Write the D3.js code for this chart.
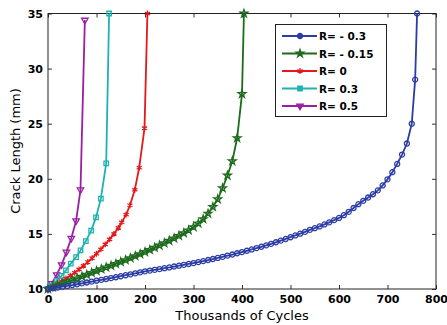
<!DOCTYPE html>
<html>
<head>
<meta charset="utf-8">
<script src="https://cdn.jsdelivr.net/npm/d3@7"></script>
<style>
  body { margin: 0; background: #fff; }
  svg { display: block; }
  .tick text { font-family: "DejaVu Sans", sans-serif; font-weight: bold; font-size: 11px; fill: #000; }
  .tick line { stroke: #333; }
</style>
</head>
<body>
<div id="chart"></div>
<script>
// series: cycles (thousands) and crack length (mm)
var seriesNames = ["R= - 0.3", "R= - 0.15", "R= 0", "R= 0.3", "R= 0.5"];

var cyclesA = [0,10,20,30,40,50,60,70,80,90,100,110,120,130,140,150,160,170,180,190,200,
  210,220,230,240,250,260,270,280,290,300,310,320,330,340,350,360,370,380,390,400,
  410,420,430,440,450,460,470,480,490,500,510,520,530,540,550,560,570,580,590,600,
  610,620,630,640,650,660,670,680,690,700,710,720,730,740,750,757,761];
var lengthA = [10.00,10.07,10.14,10.21,10.28,10.36,10.43,10.51,10.59,10.67,10.75,10.83,10.91,10.99,11.07,11.16,11.25,11.33,11.42,11.51,11.60,
  11.67,11.74,11.81,11.89,11.96,12.04,12.12,12.19,12.27,12.35,12.44,12.53,12.63,12.72,12.82,12.92,13.03,13.13,13.24,13.35,
  13.47,13.59,13.71,13.83,13.96,14.10,14.24,14.39,14.54,14.70,14.86,15.02,15.19,15.37,15.52,15.68,15.86,16.05,16.25,16.45,
  16.70,17.00,17.35,17.70,18.00,18.30,18.60,18.95,19.40,19.95,20.60,21.35,22.20,23.20,25.00,29.00,35.00];

var cyclesB = [0,10,20,30,40,50,60,70,80,90,100,110,120,130,140,150,160,170,180,190,200,
  210,220,230,240,250,260,270,280,290,300,310,320,330,340,350,360,370,380,390,400,404];
var lengthB = [10.00,10.16,10.32,10.48,10.64,10.80,10.96,11.13,11.30,11.47,11.64,11.80,11.96,12.12,12.29,12.46,12.63,12.81,12.99,13.17,13.36,
  13.55,13.75,13.95,14.16,14.38,14.60,14.83,15.07,15.33,15.62,15.95,16.35,16.85,17.45,18.15,19.15,20.30,21.60,23.70,27.70,35.00];

var cyclesC = [0,10,19,28,37,46,55,64,73,82,91,100,109,118,127,136,145,152,161,169,179,188,199,205];
var lengthC = [10.00,10.22,10.45,10.70,10.95,11.20,11.48,11.78,12.10,12.45,12.80,13.20,13.60,14.05,14.50,15.00,15.55,16.05,16.75,17.60,19.00,21.00,24.60,35.00];

var cyclesD = [0,8,18,28,37,47,58,67,78,89,99,109,120,126];
var lengthD = [10.00,10.30,10.75,11.20,11.70,12.30,12.90,13.50,14.35,15.30,16.50,18.20,21.40,35.00];

var cyclesE = [0,8,18,28,38,48,58,67,76];
var lengthE = [10.00,10.50,11.30,12.20,13.35,14.60,16.20,19.00,34.40];

var xTicks = [0,100,200,300,400,500,600,700,800];
var yTicks = [10,15,20,25,30,35];

var colors = ["#2b3ca5", "#1d6b1d", "#e3191c", "#1fb2b2", "#9a1fa3"];

function drawChart() {
    var w = 447, h = 325;
    var left = 48, right = 436, top = 13.5, bottom = 289;

    var svg = d3.select("#chart").append("svg")
        .attr("width", w).attr("height", h);

    var x = d3.scaleLinear().domain([0, 800]).range([left, right]);
    var y = d3.scaleLinear().domain([10, 35]).range([bottom, top]);

    // axes with inward ticks on all four sides
    svg.append("g").attr("transform", "translate(0," + bottom + ")")
        .call(d3.axisBottom(x).tickValues(xTicks).tickSizeInner(-4).tickSizeOuter(0).tickPadding(6))
        .call(function(g){ g.select(".domain").remove(); });
    svg.append("g").attr("transform", "translate(0," + top + ")")
        .call(d3.axisTop(x).tickValues(xTicks).tickSizeInner(-4).tickSizeOuter(0).tickFormat(""))
        .call(function(g){ g.select(".domain").remove(); });
    svg.append("g").attr("transform", "translate(" + left + ",0)")
        .call(d3.axisLeft(y).tickValues(yTicks).tickSizeInner(-4).tickSizeOuter(0).tickPadding(5))
        .call(function(g){ g.select(".domain").remove(); });
    svg.append("g").attr("transform", "translate(" + right + ",0)")
        .call(d3.axisRight(y).tickValues(yTicks).tickSizeInner(-4).tickSizeOuter(0).tickFormat(""))
        .call(function(g){ g.select(".domain").remove(); });

    svg.append("rect")
        .attr("x", left).attr("y", top)
        .attr("width", right - left).attr("height", bottom - top)
        .attr("fill", "none").attr("stroke", "#222").attr("stroke-width", 1);

    var allCycles = [cyclesA, cyclesB, cyclesC, cyclesD, cyclesE];
    var allLengths = [lengthA, lengthB, lengthC, lengthD, lengthE];
    var symbols = [d3.symbolCircle, d3.symbolStar, d3.symbolAsterisk, d3.symbolSquare, d3.symbolTriangle];
    var sizes = [20, 18, 24, 20, 18];

    var line = d3.line()
        .x(function(d){ return x(d[0]); })
        .y(function(d){ return y(d[1]); });

    // draw the series in reverse so blue ends on top at the origin like the original
    for (var s = 4; s >= 0; s--) {
        var pts = allCycles[s].map(function(c, i){ return [c, allLengths[s][i]]; });
        svg.append("path").datum(pts)
            .attr("d", line)
            .attr("fill", "none")
            .attr("stroke", colors[s])
            .attr("stroke-width", 1.8);
        var sym = d3.symbol().type(symbols[s]).size(sizes[s]);
        svg.append("g").selectAll("path")
            .data(pts).enter().append("path")
            .attr("d", sym)
            .attr("transform", function(d){
                return "translate(" + x(d[0]) + "," + y(d[1]) + ")" + (s === 4 ? " rotate(180)" : "");
            })
            .attr("fill", "none")
            .attr("stroke", colors[s])
            .attr("stroke-width", 1.3);
    }

    // legend
    var lg = svg.append("g");
    lg.append("rect").attr("x", 275.5).attr("y", 24.5).attr("width", 111).attr("height", 92)
        .attr("fill", "#fff").attr("stroke", "#222").attr("stroke-width", 1);
    seriesNames.forEach(function(name, i){
        var ly = 36 + i * 17.5;
        lg.append("line").attr("x1", 282).attr("x2", 317).attr("y1", ly).attr("y2", ly)
            .attr("stroke", colors[i]).attr("stroke-width", 1.8);
        lg.append("path")
            .attr("d", d3.symbol().type(symbols[i]).size(sizes[i]))
            .attr("transform", "translate(300," + ly + ")" + (i === 4 ? " rotate(180)" : ""))
            .attr("fill", colors[i]).attr("stroke", colors[i]).attr("stroke-width", 1.3);
        lg.append("text").attr("x", 319).attr("y", ly + 4)
            .attr("font-family", "DejaVu Sans, sans-serif").attr("font-weight", "bold")
            .attr("font-size", "10.5px").text(name);
    });

    // axis titles
    svg.append("text").attr("x", 242).attr("y", 320)
        .attr("text-anchor", "middle")
        .attr("font-family", "DejaVu Sans, sans-serif").attr("font-size", "13px")
        .text("Thousands of Cycles");
    svg.append("text")
        .attr("transform", "translate(20,151) rotate(-90)")
        .attr("text-anchor", "middle")
        .attr("font-family", "DejaVu Sans, sans-serif").attr("font-size", "13px")
        .text("Crack Length (mm)");
}

window.onload = function(){
    drawChart();
};
</script>
</body>
</html>
